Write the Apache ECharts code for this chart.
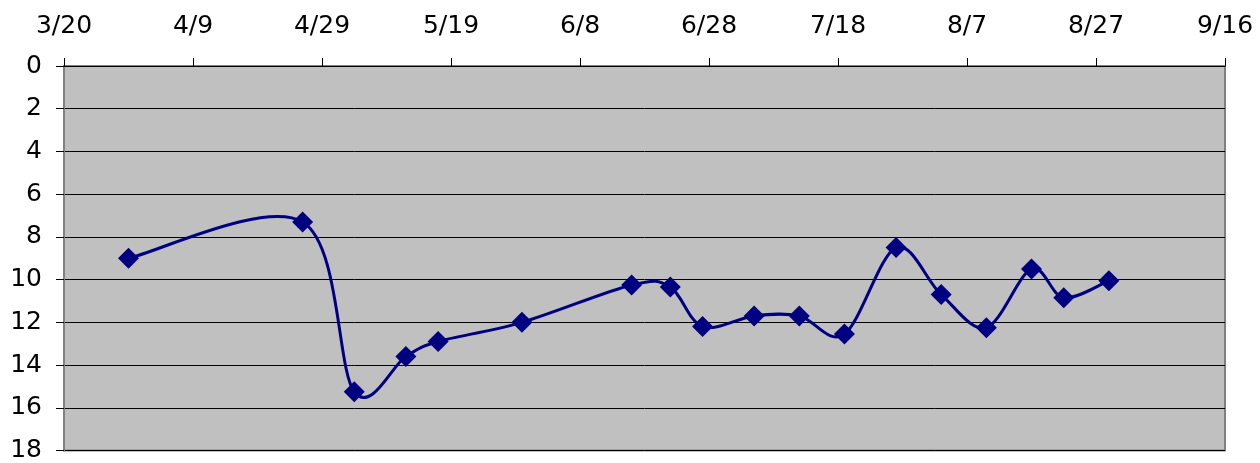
<!DOCTYPE html>
<html>
<head>
<meta charset="utf-8">
<script src="https://cdn.jsdelivr.net/npm/echarts@6/dist/echarts.min.js"></script>
<style>html,body{margin:0;padding:0;background:#fff}#c{width:1260px;height:463px}</style>
</head>
<body>
<div id="c"></div>
<script>
// Axis start date and tick step (days)
const startDate = "3/20";
const tickStepDays = 20;
const axisSpanDays = 180;
// Observation dates (M/D) and values
const dates = ["3/30","4/26","5/4","5/12","5/17","5/30","6/16","6/22","6/27","7/5","7/12","7/19","7/27","8/3","8/10","8/17","8/22","8/29"];
const values = [9.0, 7.3, 15.25, 13.6, 12.9, 12.0, 10.25, 10.35, 12.2, 11.7, 11.7, 12.55, 8.5, 10.7, 12.25, 9.5, 10.85, 10.05];
const yMin = 0, yMax = 18, yStep = 2;

const YEAR = 2003, DAY = 86400000;
function toUTC(s){const [m,d]=s.split('/').map(Number);return Date.UTC(YEAR,m-1,d);}
const t0 = toUTC(startDate);
function dayOffset(s){return Math.round((toUTC(s)-t0)/DAY);}
function offsetLabel(v){const d=new Date(t0+v*DAY);return (d.getUTCMonth()+1)+'/'+d.getUTCDate();}

const seriesData = dates.map((s,i)=>[dayOffset(s), values[i]]);
const FONT = 'DejaVu Sans';
const LINE_COLOR = '#000080';

// Smoothed line segments (Catmull-Rom style, like a spreadsheet "smoothed line"),
// positioned through the chart's own coordinate system via api.coord.
function renderSegment(params, api){
  const i = params.dataIndex;
  const n = seriesData.length;
  if (i >= n - 1) return null;
  const p = k => api.coord(seriesData[Math.max(0, Math.min(n - 1, k))]);
  const P0 = p(i - 1), P1 = p(i), P2 = p(i + 1), P3 = p(i + 2);
  const t = 1 / 6;
  return {
    type: 'bezierCurve',
    shape: {
      x1: P1[0], y1: P1[1], x2: P2[0], y2: P2[1],
      cpx1: P1[0] + (P2[0] - P0[0]) * t, cpy1: P1[1] + (P2[1] - P0[1]) * t,
      cpx2: P2[0] - (P3[0] - P1[0]) * t, cpy2: P2[1] - (P3[1] - P1[1]) * t
    },
    style: { stroke: LINE_COLOR, lineWidth: 3, fill: null }
  };
}

const chart = echarts.init(document.getElementById('c'), null, {renderer:'canvas'});
chart.setOption({
  animation:false,
  backgroundColor:'#ffffff',
  grid:{left:64, top:66, right:35, bottom:11, show:true, backgroundColor:'#C0C0C0', borderColor:'#808080', borderWidth:2},
  xAxis:{
    type:'value', position:'top', min:0, max:axisSpanDays, interval:tickStepDays,
    axisLine:{show:true, onZero:false, lineStyle:{color:'#000', width:1}},
    axisTick:{show:true, inside:false, length:8, lineStyle:{color:'#000', width:1}},
    axisLabel:{fontFamily:FONT, fontSize:25, color:'#000', margin:27, formatter:offsetLabel},
    splitLine:{show:false}
  },
  yAxis:{
    type:'value', inverse:true, min:yMin, max:yMax, interval:yStep,
    axisLine:{show:true, onZero:false, lineStyle:{color:'#808080', width:2}},
    axisTick:{show:true, inside:false, length:8, lineStyle:{color:'#000', width:1}},
    axisLabel:{fontFamily:FONT, fontSize:25, color:'#000', margin:22},
    splitLine:{show:true, lineStyle:{color:'#000', width:1}}
  },
  series:[{
    type:'custom', data:seriesData, renderItem:renderSegment, z:2,
    encode:{x:0, y:1}, silent:true
  },{
    type:'scatter', data:seriesData, z:3,
    symbol:'diamond', symbolSize:21,
    itemStyle:{color:LINE_COLOR, opacity:1}
  }]
});
</script>
</body>
</html>
